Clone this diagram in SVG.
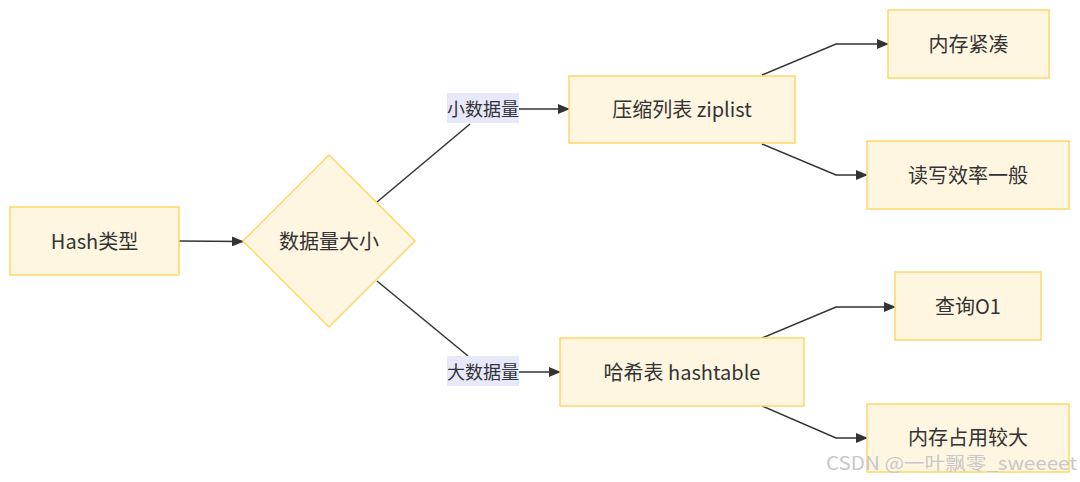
<svg xmlns="http://www.w3.org/2000/svg" width="1080" height="482" viewBox="0 0 1080 482">
<style>
.node rect,.node polygon{fill:#fff6e1;stroke:#ffd666;stroke-width:1.5}
.node text{font-family:"Noto Sans CJK SC","Noto Sans",sans-serif;font-size:20px;fill:#333;text-anchor:middle;dominant-baseline:central}
.edges path{fill:none;stroke:#333;stroke-width:1.5}
.lbl rect{fill:#e8e8fd}
.lbl text{font-family:"Noto Sans CJK SC","Noto Sans",sans-serif;font-size:18px;fill:#333;text-anchor:middle;dominant-baseline:central}
.wm{font-family:"Noto Sans CJK SC","Liberation Sans",sans-serif;font-size:18px;fill:#c8c8c8}
</style>
<defs>
<marker id="arr" viewBox="0 0 12 10" refX="11" refY="5" markerWidth="12" markerHeight="10" markerUnits="userSpaceOnUse" orient="auto">
<path d="M0,0 L12,5 L0,10 z" fill="#333"/>
</marker>
</defs>
<rect width="1080" height="482" fill="#fff"/>
<g class="edges">
<path d="M179,241 L243,241.5" marker-end="url(#arr)"/>
<path d="M377,202 L470,124"/>
<path d="M519,109 L569,109" marker-end="url(#arr)"/>
<path d="M377,281 L468,356"/>
<path d="M519,372 L560,372" marker-end="url(#arr)"/>
<path d="M762,75 L836,44 L888,44" marker-end="url(#arr)"/>
<path d="M762,144 L836,175 L867,175" marker-end="url(#arr)"/>
<path d="M762,338 L836,307 L895,307" marker-end="url(#arr)"/>
<path d="M762,406 L836,438 L867,438" marker-end="url(#arr)"/>
</g>
<g class="lbl" id="label-small">
<rect x="447" y="93" width="72" height="30"/>
<text x="483" y="108">小数据量</text>
</g>
<g class="lbl" id="label-large">
<rect x="447" y="356" width="72" height="30"/>
<text x="483" y="371">大数据量</text>
</g>
<g class="node" id="hash">
<rect x="10" y="207" width="169" height="68"/>
<text x="94.5" y="240">Hash类型</text>
</g>
<g class="node" id="size">
<polygon points="329,155 415,241 329,327 243,241"/>
<text x="329" y="240">数据量大小</text>
</g>
<g class="node" id="ziplist">
<rect x="569" y="76" width="226" height="67"/>
<text x="682" y="108.5">压缩列表 ziplist</text>
</g>
<g class="node" id="hashtable">
<rect x="560" y="338" width="244" height="68"/>
<text x="682" y="371">哈希表 hashtable</text>
</g>
<g class="node" id="compact">
<rect x="888" y="10" width="161" height="68"/>
<text x="968.5" y="43">内存紧凑</text>
</g>
<g class="node" id="rw">
<rect x="867" y="141" width="202" height="68"/>
<text x="968" y="174">读写效率一般</text>
</g>
<g class="node" id="query">
<rect x="895" y="272" width="146" height="68"/>
<text x="968" y="305">查询O1</text>
</g>
<g class="node" id="mem">
<rect x="867" y="404" width="202" height="68"/>
<text x="968" y="436">内存占用较大</text>
</g>
<text class="wm" x="826" y="470" textLength="251" lengthAdjust="spacingAndGlyphs">CSDN @一叶飘零_sweeeet</text>
</svg>
